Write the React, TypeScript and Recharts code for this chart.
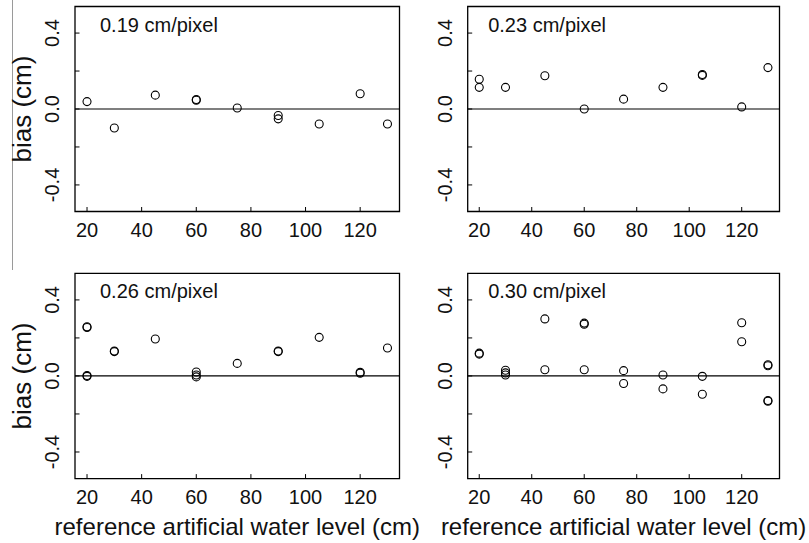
import { ScatterChart, Scatter, XAxis, YAxis, ReferenceLine, ReferenceArea } from 'recharts';

// reference artificial water level (cm) for each point, and its bias (cm)
const A_X = [20, 30, 45, 60, 60, 75, 90, 90, 105, 120, 130];
const A_Y = [0.039, -0.1, 0.073, 0.05, 0.046, 0.005, -0.034, -0.052, -0.079, 0.08, -0.079];

const B_X = [20, 20, 30, 45, 60, 75, 90, 105, 105, 120, 130];
const B_Y = [0.157, 0.114, 0.114, 0.175, 0.0, 0.052, 0.114, 0.182, 0.177, 0.011, 0.218];

const C_X = [20, 20, 20, 20, 30, 30, 45, 60, 60, 60, 75, 90, 90, 105, 120, 120, 130];
const C_Y = [0.259, 0.255, 0.002, -0.002, 0.131, 0.128, 0.194, 0.021, 0.005, -0.005, 0.066, 0.131, 0.128, 0.203, 0.019, 0.014, 0.147];

const D_X = [20, 20, 30, 30, 30, 45, 45, 60, 60, 60, 75, 75, 90, 90, 105, 105, 120, 120, 130, 130, 130, 130];
const D_Y = [0.12, 0.115, 0.03, 0.016, 0.005, 0.3, 0.033, 0.278, 0.272, 0.033, 0.028, -0.04, 0.005, -0.068, -0.002, -0.096, 0.28, 0.18, 0.059, 0.054, -0.129, -0.133];

const X_TICKS = [20, 40, 60, 80, 100, 120];
const Y_TICKS = [-0.4, -0.2, 0, 0.2, 0.4];
const Y_LABELLED = [-0.4, 0, 0.4];
const X_DOMAIN: [number, number] = [15.6, 134.4];
const Y_DOMAIN: [number, number] = [-0.54, 0.54];

const FONT = '"Liberation Sans", Arial, sans-serif';

const toPoints = (xs: number[], ys: number[]) => xs.map((x, i) => ({ x, y: ys[i] }));

function XTick({ x, y, payload }: any) {
  return (
    <g>
      <line x1={x} y1={y} x2={x} y2={y - 4.5} stroke="#000" />
      <text x={x} y={y + 25} textAnchor="middle" fontSize={20} fontFamily={FONT} fill="#111">
        {payload.value}
      </text>
    </g>
  );
}

function YTick({ x, y, payload }: any) {
  const show = Y_LABELLED.some((v) => Math.abs(v - payload.value) < 1e-9);
  const tx = x - 16;
  return (
    <g>
      <line x1={x} y1={y} x2={x + 4.5} y2={y} stroke="#000" />
      {show && (
        <text
          x={tx}
          y={y}
          transform={`rotate(-90, ${tx}, ${y})`}
          textAnchor="middle"
          fontSize={20}
          fontFamily={FONT}
          fill="#111"
        >
          {Number(payload.value).toFixed(1)}
        </text>
      )}
    </g>
  );
}

function Ring({ cx, cy }: any) {
  return <circle cx={cx} cy={cy} r={4} fill="none" stroke="#000" strokeWidth={1.1} />;
}

interface PanelProps {
  xs: number[];
  ys: number[];
  note: string;
  noteDx: number;
  left: number;
  top: number;
  width: number;
  height: number;
  yAxisWidth: number;
  xAxisHeight: number;
  margin: { top: number; right: number; left: number; bottom: number };
  bias?: boolean;
  xTitle?: boolean;
}

function Panel(p: PanelProps) {
  const data = toPoints(p.xs, p.ys);
  return (
    <div style={{ position: 'absolute', left: p.left, top: p.top }}>
      <ScatterChart width={p.width} height={p.height} margin={p.margin}>
        <XAxis
          type="number"
          dataKey="x"
          domain={X_DOMAIN}
          ticks={X_TICKS}
          allowDataOverflow
          axisLine={false}
          tickLine={false}
          tickSize={0}
          tickMargin={0}
          height={p.xAxisHeight}
          tick={<XTick />}
          interval={0}
          label={
            p.xTitle
              ? ({ viewBox }: any) => (
                  <text
                    x={viewBox.x + viewBox.width / 2}
                    y={viewBox.y + 56}
                    textAnchor="middle"
                    fontSize={24}
                    fontFamily={FONT}
                    fill="#111"
                  >
                    reference artificial water level (cm)
                  </text>
                )
              : undefined
          }
        />
        <YAxis
          type="number"
          dataKey="y"
          domain={Y_DOMAIN}
          ticks={Y_TICKS}
          allowDataOverflow
          axisLine={false}
          tickLine={false}
          tickSize={0}
          tickMargin={0}
          width={p.yAxisWidth}
          tick={<YTick />}
          interval={0}
          label={
            p.bias
              ? ({ viewBox }: any) => {
                  const bx = 31;
                  const by = viewBox.y + viewBox.height / 2;
                  return (
                    <text
                      x={bx}
                      y={by}
                      transform={`rotate(-90, ${bx}, ${by})`}
                      textAnchor="middle"
                      fontSize={26}
                      fontFamily={FONT}
                      fill="#111"
                    >
                      bias (cm)
                    </text>
                  );
                }
              : undefined
          }
        />
        <ReferenceArea
          x1={X_DOMAIN[0]}
          x2={X_DOMAIN[1]}
          y1={Y_DOMAIN[0]}
          y2={Y_DOMAIN[1]}
          fill="none"
          stroke="#000"
          strokeWidth={1.3}
          label={({ viewBox }: any) => (
            <text
              x={viewBox.x + p.noteDx}
              y={viewBox.y + 25}
              fontSize={20}
              fontFamily={FONT}
              fill="#111"
            >
              {p.note}
            </text>
          )}
        />
        <ReferenceLine y={0} stroke="#000" strokeWidth={1.2} />
        <Scatter data={data} shape={<Ring />} isAnimationActive={false} />
      </ScatterChart>
    </div>
  );
}

export default function App() {
  return (
    <div
      style={{
        position: 'absolute',
        left: 0,
        top: 0,
        width: 809,
        height: 543,
        background: '#fff',
        overflow: 'hidden',
      }}
    >
      <div style={{ position: 'absolute', left: 12, top: 0, width: 1, height: 270, background: '#9a9a9a' }} />
      <Panel
        xs={B_X}
        ys={B_Y}
        note="0.23 cm/pixel"
        noteDx={20.5}
        left={405}
        top={0}
        width={404}
        height={270}
        yAxisWidth={62.7}
        xAxisHeight={58.5}
        margin={{ top: 6.5, right: 29.5, left: 0, bottom: 0 }}
      />
      <Panel
        xs={D_X}
        ys={D_Y}
        note="0.30 cm/pixel"
        noteDx={20.5}
        left={405}
        top={270}
        width={404}
        height={273}
        yAxisWidth={62.7}
        xAxisHeight={64.4}
        margin={{ top: 3.3, right: 29.5, left: 0, bottom: 0 }}
        xTitle
      />
      <Panel
        xs={A_X}
        ys={A_Y}
        note="0.19 cm/pixel"
        noteDx={25}
        left={0}
        top={0}
        width={445}
        height={270}
        yAxisWidth={75}
        xAxisHeight={58.5}
        margin={{ top: 6.5, right: 45.5, left: 0, bottom: 0 }}
        bias
      />
      <Panel
        xs={C_X}
        ys={C_Y}
        note="0.26 cm/pixel"
        noteDx={25}
        left={0}
        top={270}
        width={445}
        height={273}
        yAxisWidth={75}
        xAxisHeight={64.4}
        margin={{ top: 3.3, right: 45.5, left: 0, bottom: 0 }}
        bias
        xTitle
      />
    </div>
  );
}
